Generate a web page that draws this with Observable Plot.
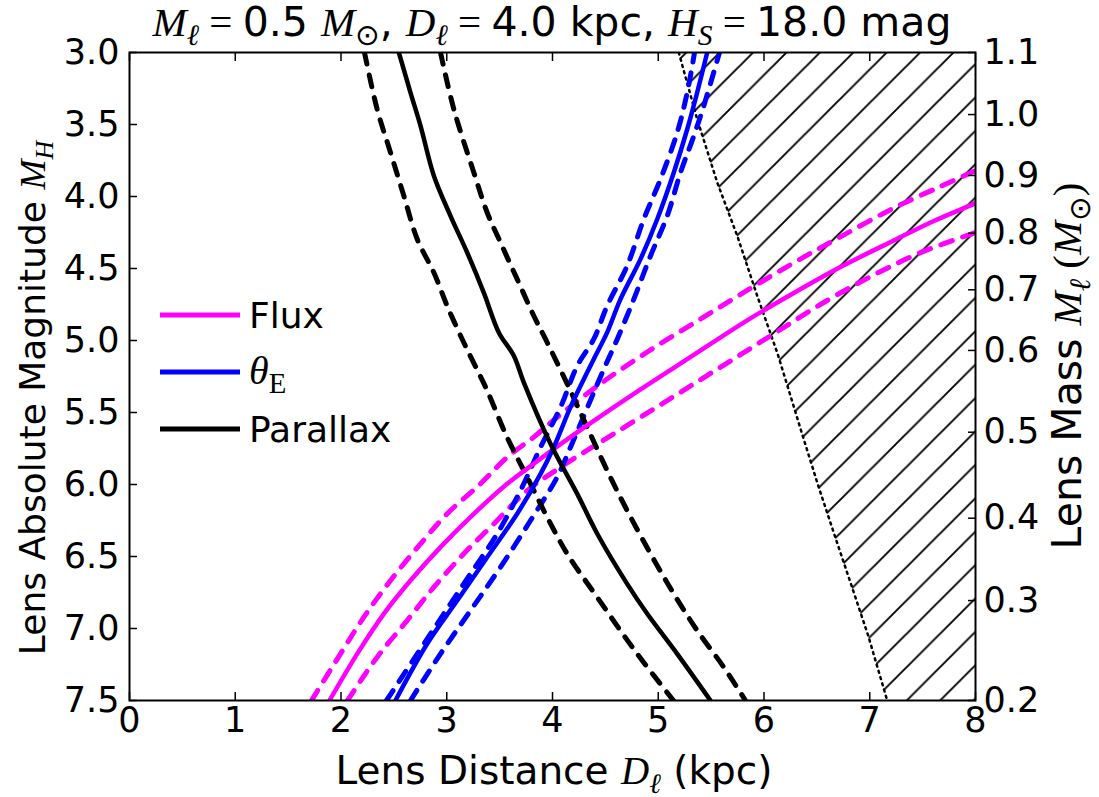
<!DOCTYPE html>
<html><head><meta charset="utf-8">
<script src="https://cdn.jsdelivr.net/npm/d3@7"></script>
<script src="https://cdn.jsdelivr.net/npm/@observablehq/plot@0.6"></script>
<style>body{margin:0;background:#fff} svg{display:block}</style>
</head><body><div id="chart"></div>
<script>
// ---- data ----
const xTicks = [0,1,2,3,4,5,6,7,8];
const yTicks = [3.0,3.5,4.0,4.5,5.0,5.5,6.0,6.5,7.0,7.5];
const massLabels = ["1.1","1.0","0.9","0.8","0.7","0.6","0.5","0.4","0.3","0.2"];
const massTickMH = [3.0,3.431,3.854,4.255,4.648,5.069,5.637,6.234,6.806,7.5];

const fluxD  = [1.891,2.153,2.405,2.657,2.941,3.256,3.572,3.823,4.076,4.328,4.832,5.336,5.841,6.282,6.723,7.228,7.606,7.984,8.0];
const fluxMH = [7.5,7.176,6.898,6.667,6.435,6.204,5.995,5.856,5.72,5.59,5.34,5.10,4.86,4.67,4.49,4.305,4.17,4.051,4.045];
const fluxHiD  = [1.721,1.995,2.216,2.468,2.752,3.004,3.319,3.572,3.823,4.044,4.454,4.896,5.336,5.778,6.282,6.723,7.228,7.669,8.0];
const fluxHiMH = [7.5,7.176,6.921,6.667,6.412,6.203,5.995,5.810,5.671,5.533,5.30,5.08,4.88,4.68,4.46,4.28,4.08,3.93,3.82];
const fluxLoD  = [2.061,2.342,2.626,2.878,3.161,3.445,3.761,4.076,4.580,5.085,5.589,6.093,6.597,7.038,7.480,8.0];
const fluxLoMH = [7.5,7.199,6.944,6.713,6.481,6.273,6.042,5.880,5.648,5.417,5.185,4.953,4.722,4.545,4.39,4.25];

const thetaD  = [2.515,2.815,3.099,3.382,3.666,3.887,4.012,4.170,4.296,4.390,4.517,4.643,4.832,4.990,5.147,5.274,5.368,5.463];
const thetaMH = [7.5,7.106,6.806,6.505,6.203,5.926,5.741,5.463,5.269,5.130,4.944,4.713,4.435,4.158,3.833,3.533,3.278,3.0];
const thetaLoD  = [2.430,2.721,2.972,3.225,3.477,3.697,3.887,4.076,4.234,4.390,4.517,4.706,4.863,5.021,5.179,5.274,5.343];
const thetaLoMH = [7.5,7.176,6.898,6.620,6.342,6.042,5.741,5.463,5.176,4.991,4.759,4.481,4.158,3.880,3.556,3.278,3.0];
const thetaHiD  = [2.657,2.941,3.225,3.508,3.792,4.044,4.170,4.485,4.612,4.769,4.927,5.085,5.211,5.337,5.431,5.579];
const thetaHiMH = [7.5,7.176,6.875,6.574,6.250,5.949,5.741,5.199,4.991,4.713,4.412,4.134,3.833,3.578,3.370,3.0];

const parD  = [2.547,2.657,2.752,2.878,3.035,3.193,3.350,3.492,3.634,3.729,3.981,4.234,4.423,4.706,4.896,5.179,5.494];
const parMH = [3.0,3.278,3.509,3.856,4.134,4.389,4.667,4.944,5.106,5.292,5.717,6.065,6.342,6.690,6.898,7.176,7.5];
const parLoD  = [2.222,2.342,2.468,2.594,2.721,2.878,3.004,3.161,3.300,3.382,3.571,3.761,3.950,4.139,4.423,4.801,5.144];
const parLoMH = [3.0,3.394,3.694,3.995,4.297,4.528,4.760,5.014,5.222,5.347,5.672,5.949,6.227,6.481,6.783,7.176,7.5];
const parHiD  = [2.941,3.067,3.256,3.382,3.508,3.666,3.823,3.950,4.139,4.328,4.517,4.706,4.927,5.147,5.368,5.620,5.825];
const parHiMH = [3.0,3.394,3.833,4.111,4.319,4.574,4.828,5.014,5.301,5.602,5.903,6.181,6.481,6.759,7.014,7.269,7.5];

const hatchD  = [5.194,5.368,5.558,5.747,5.936,6.128,6.352,6.510,6.667,6.827,6.986,7.165];
const hatchMH = [3.0,3.463,3.903,4.273,4.690,5.090,5.629,6.002,6.351,6.701,7.051,7.5];

const legendNames = ["Flux","θE","Parallax"];
const colors = {flux:"#ff00ff", theta:"#0000ff", par:"#000000"};
// ---- end data ----

const rows = (D, M) => D.map((d,i) => ({d, mh: M[i]}));
const xMax = 8;
const W = 1099, H = 797;
const SANS = "DejaVu Sans";
const SERIF = "Liberation Serif, DejaVu Serif, serif";
const TICK_FS = 35;

function curve(D, M, color, dashed) {
  return Plot.line(rows(D, M), {x:"d", y:"mh", stroke: color, strokeWidth: dashed ? 5 : 4.5,
    strokeDasharray: dashed ? "12,11" : null, curve: "catmull-rom", clip: true});
}
const massMap = new Map(massTickMH.map((v,i) => [v, massLabels[i]]));

const svg = Plot.plot({
  width: W, height: H,
  marginLeft: 129, marginRight: 124, marginTop: 52, marginBottom: 97,
  style: {fontFamily: SANS, background: "white", overflow: "visible"},
  x: {domain: [0, xMax], label: null},
  y: {domain: [7.5, 3.0], label: null},
  marks: [
    Plot.areaX(rows(hatchD, hatchMH), {y:"mh", x1:"d", x2: () => xMax, fill: "url(#hatch)", clip: true}),
    Plot.line(rows(hatchD, hatchMH), {x:"d", y:"mh", stroke:"black", strokeWidth: 2.5, strokeDasharray:"2,4.5", clip:true}),
    curve(fluxHiD, fluxHiMH, colors.flux, true),
    curve(fluxLoD, fluxLoMH, colors.flux, true),
    curve(thetaLoD, thetaLoMH, colors.theta, true),
    curve(thetaHiD, thetaHiMH, colors.theta, true),
    curve(parLoD, parLoMH, colors.par, true),
    curve(parHiD, parHiMH, colors.par, true),
    curve(fluxD, fluxMH, colors.flux, false),
    curve(thetaD, thetaMH, colors.theta, false),
    curve(parD, parMH, colors.par, false),
    // tick labels
    Plot.axisX({anchor:"bottom", ticks: xTicks, tickSize: 0, tickPadding: 7, fontSize: TICK_FS, tickFormat: d3.format("d"), label: null}),
    Plot.axisY({anchor:"left", ticks: yTicks, tickSize: 0, tickPadding: 10, fontSize: TICK_FS, tickFormat: d3.format(".1f"), label: null}),
    Plot.axisY({anchor:"right", ticks: massTickMH, tickSize: 0, tickPadding: 8, fontSize: TICK_FS, tickFormat: d => massMap.get(d), label: null}),
    // inward tick marks
    Plot.axisX({anchor:"bottom", ticks: xTicks, tickSize: 8, dy: -8, tickFormat: () => "", label: null, strokeWidth: 1.5}),
    Plot.axisX({anchor:"top", ticks: xTicks, tickSize: 8, dy: 8, tickFormat: () => "", label: null, strokeWidth: 1.5}),
    Plot.axisY({anchor:"left", ticks: yTicks, tickSize: 8, dx: 8, tickFormat: () => "", label: null, strokeWidth: 1.5}),
    Plot.axisY({anchor:"right", ticks: massTickMH, tickSize: 8, dx: -8, tickFormat: () => "", label: null, strokeWidth: 1.5}),
    Plot.frame({stroke: "black", strokeWidth: 2})
  ]
});

const s = d3.select(svg);
// hatch pattern
const defs = s.insert("defs", ":first-child");
const P = 33.4;
const pat = defs.append("pattern").attr("id","hatch").attr("patternUnits","userSpaceOnUse")
  .attr("width", P).attr("height", P).attr("patternTransform","translate(4,0)");
pat.append("path").attr("d", `M0,${P} L${P},0 M${-P/4},${P/4} L${P/4},${-P/4} M${P*3/4},${P*5/4} L${P*5/4},${P*3/4}`)
  .attr("stroke","black").attr("stroke-width",1.9).attr("fill","none");

function rich(parts, {x, y, size, anchor = "middle", rotate = 0}) {
  const t = s.append("text").attr("text-anchor", anchor).attr("font-size", size)
    .attr("font-family", SANS).attr("fill", "black")
    .attr("transform", `translate(${x},${y}) rotate(${rotate})`);
  let shift = 0;
  for (const p of parts) {
    const ts = t.append("tspan").text(p.t);
    if (p.m) ts.attr("font-family", SERIF).attr("font-style", "italic");
    if (p.r) ts.attr("font-family", SERIF);
    const target = p.sub ? size * 0.22 : 0;
    if (p.sub) ts.attr("font-size", size * 0.72);
    if (target !== shift) { ts.attr("dy", target - shift); shift = target; }
  }
  return t;
}
// title
rich([{t:"M",m:1},{t:"ℓ",m:1,sub:1},{t:" = ",r:1},{t:"0.5 "},{t:"M",m:1},{t:"⊙",sub:1},
      {t:", "},{t:"D",m:1},{t:"ℓ",m:1,sub:1},{t:" = ",r:1},{t:"4.0 kpc, "},
      {t:"H",m:1},{t:"S",m:1,sub:1},{t:" = ",r:1},{t:"18.0 mag"}],
     {x: 552, y: 36, size: 41});
// x label
rich([{t:"Lens Distance "},{t:"D",m:1},{t:"ℓ",m:1,sub:1},{t:" (kpc)"}], {x: 554, y: 784, size: 39});
// left label
rich([{t:"Lens Absolute Magnitude "},{t:"M",m:1},{t:"H",m:1,sub:1}], {x: 45, y: 398, size: 36, rotate: -90});
// right label
rich([{t:"Lens Mass "},{t:"M",m:1},{t:"ℓ",m:1,sub:1},{t:" (",r:1},{t:"M",m:1},{t:"⊙",sub:1},{t:")",r:1}],
     {x: 1081, y: 366, size: 41, rotate: -90});

// legend
const lg = s.append("g");
const lgColors = [colors.flux, colors.theta, colors.par];
legendNames.forEach((name, i) => {
  const yy = 315 + i * 57;
  lg.append("line").attr("x1",160).attr("x2",240).attr("y1",yy).attr("y2",yy)
    .attr("stroke", lgColors[i]).attr("stroke-width", 5);
  if (name === "θE") {
    rich([{t:"θ",m:1},{t:"E",r:1,sub:1}], {x: 249, y: yy + 12, size: 40, anchor: "start"});
  } else {
    rich([{t:name}], {x: 249, y: yy + 13, size: 36, anchor: "start"});
  }
});

document.getElementById("chart").appendChild(svg);
</script></body></html>
